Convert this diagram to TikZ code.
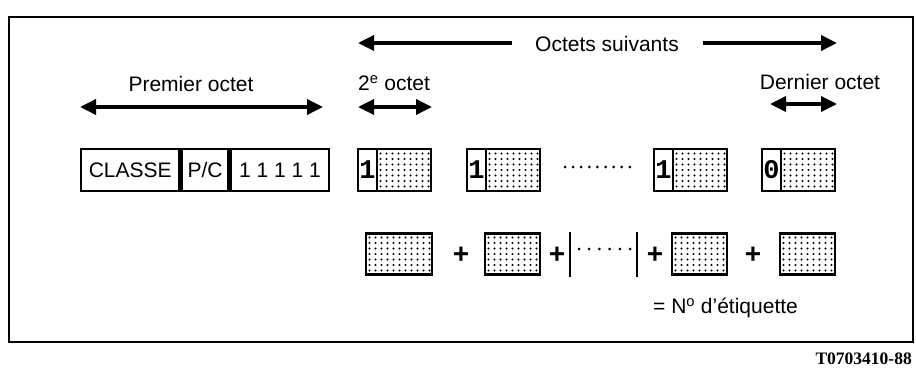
\documentclass[tikz,border=0pt]{standalone}
\usepackage{fontspec}
\setmainfont{Liberation Sans}
\newfontfamily\serifb{Liberation Serif}
\newfontfamily\monof{Liberation Mono}
\usetikzlibrary{arrows.meta}
\newcommand\dotarea[3]{%
  \foreach \i in {1,...,#3} \foreach \j in {0,...,6}
    \fill ({#1+\i*6-2.5},{#2-16.5+\j*5.5}) circle (1.15);}
\tikzset{
  lab/.style={font=\fontsize{21}{24}\selectfont, inner sep=0pt},
  boxtxt/.style={font=\fontsize{21}{24}\selectfont},
  cell/.style={draw, line width=2.4pt, minimum height=42pt, inner sep=0pt, boxtxt},
  octbox/.style={draw, line width=2.6pt, minimum width=73pt, minimum height=42pt, inner sep=0pt},
  sumbox/.style={draw, line width=2.6pt, minimum width=55pt, minimum height=41pt, inner sep=0pt},
  bitcell/.style={draw, line width=2.4pt, fill=white, minimum width=19pt, minimum height=42pt, inner sep=0pt, font=\monof\bfseries\fontsize{27}{27}\selectfont},
  dimarrow/.style={line width=3.5pt, {Triangle[length=16pt,width=15pt]}-{Triangle[length=16pt,width=15pt]}},
  leftarrow/.style={line width=3.5pt, {Triangle[length=16pt,width=15pt]}-},
  rightarrow/.style={line width=3.5pt, -{Triangle[length=16pt,width=15pt]}},
  plus/.style={font=\bfseries\fontsize{28}{28}\selectfont, inner sep=0pt},
  barline/.style={line width=2.6pt},
}
\begin{document}
\begin{tikzpicture}[x=1pt,y=-1pt]
\useasboundingbox (0,0) rectangle (916,370);
% frame
\node[draw, line width=2.4pt, minimum width=904pt, minimum height=325pt, inner sep=0pt, anchor=north west] (frame) at (8,16) {};
\node[font=\serifb\bfseries\fontsize{17.5}{20}\selectfont, inner sep=0pt, anchor=east] (ref) at (912,359) {T0703410-88};

% top labels
\node[lab] (suiv) at (607,44) {Octets suivants};
\coordinate (sl1) at (358,43); \coordinate (sl2) at (512,43);
\coordinate (sr1) at (703,43); \coordinate (sr2) at (837,43);
\draw[leftarrow] (sl1) -- (sl2);
\draw[rightarrow] (sr1) -- (sr2);

\node[lab] (prem) at (191,84) {Premier octet};
\coordinate (pa1) at (80,107); \coordinate (pa2) at (323,107);
\draw[dimarrow] (pa1) -- (pa2);

\node[lab] (deux) at (394,83) {2\textsuperscript{e} octet};
\coordinate (da1) at (358,107); \coordinate (da2) at (432,107);
\draw[dimarrow] (da1) -- (da2);

\node[lab] (dern) at (820,82) {Dernier octet};
\coordinate (ea1) at (770,104); \coordinate (ea2) at (837,104);
\draw[dimarrow] (ea1) -- (ea2);

% first octet
\node[cell, minimum width=98pt, anchor=west] (classe) at (80,170) {CLASSE};
\node[cell, minimum width=47pt, anchor=west] (pc) at (classe.east) {P/C};
\node[cell, minimum width=98pt, anchor=west] (ones) at (pc.east) {1 1 1 1 1};

% following octets
\dotarea{377}{170}{9}
\node[octbox] (o2) at (394.5,170) {};
\node[bitcell, anchor=west] (o2b) at (o2.west) {1};
\dotarea{486}{170}{9}
\node[octbox] (o3) at (503.5,170) {};
\node[bitcell, anchor=west] (o3b) at (o3.west) {1};
\dotarea{673}{170}{9}
\node[octbox] (o4) at (690.5,170) {};
\node[bitcell, anchor=west] (o4b) at (o4.west) {1};
\dotarea{781}{170}{9}
\node[octbox] (o5) at (798.5,170) {};
\node[bitcell, anchor=west] (o5b) at (o5.west) {0};
\foreach \i in {0,...,8} \fill (565+\i*8.1,167) circle (1.5);

% sum row
\dotarea{366}{254}{11}
\node[sumbox, minimum width=66pt] (s1) at (399,254) {};
\node[plus] (p1) at (461,255) {+};
\dotarea{485}{254}{9}
\node[sumbox] (s2) at (512.5,254) {};
\node[plus] (p2) at (557,255) {+};
\coordinate (b1t) at (570,232); \coordinate (b1b) at (570,277);
\coordinate (b2t) at (637,232); \coordinate (b2b) at (637,277);
\draw[barline] (b1t) -- (b1b);
\draw[barline] (b2t) -- (b2b);
\foreach \i in {0,...,5} \fill (579+\i*10.2,249) circle (1.5);
\node[plus] (p3) at (655,255) {+};
\dotarea{672}{254}{9}
\node[sumbox] (s3) at (699.5,254) {};
\node[plus] (p4) at (753,255) {+};
\dotarea{780}{254}{9}
\node[sumbox] (s4) at (807.5,254) {};
\node[lab, anchor=west] (eq) at (653,308) {= N\textsuperscript{o} d'étiquette};
\end{tikzpicture}
\end{document}
